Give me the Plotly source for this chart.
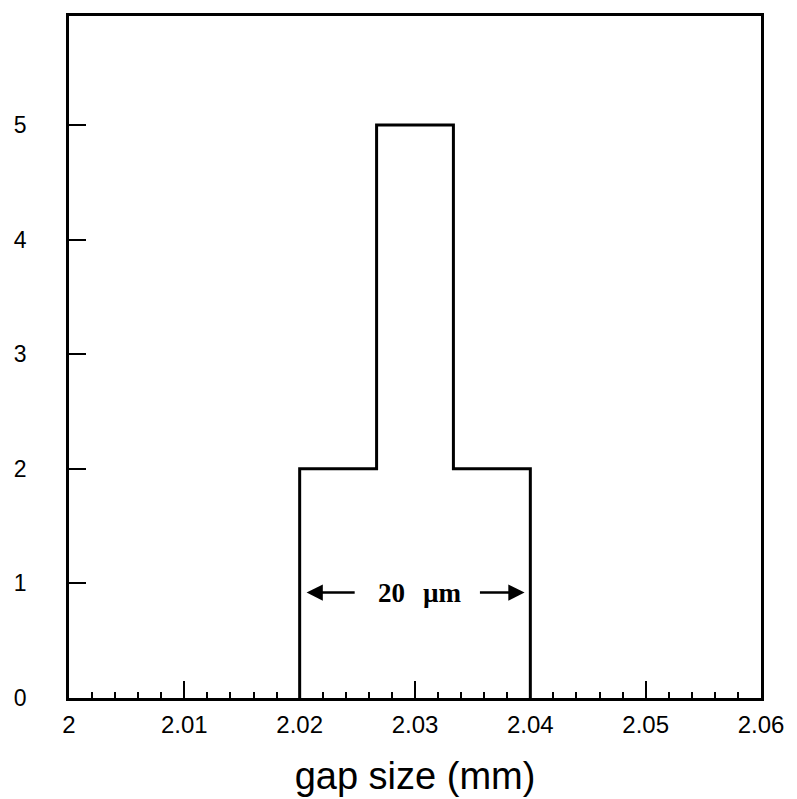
import plotly.graph_objects as go

# Data
bin_edges = [2.02, 2.02667, 2.03333, 2.04]
counts = [2, 5, 2]
x_tick_vals = [2.00, 2.01, 2.02, 2.03, 2.04, 2.05, 2.06]
x_tick_text = ["2", "2.01", "2.02", "2.03", "2.04", "2.05", "2.06"]
y_tick_vals = [0, 1, 2, 3, 4, 5]
x_label = "gap size (mm)"
width_label_num = "20"
width_label_unit = "µm"

# step outline (hv)
xs = [bin_edges[0]] + bin_edges
ys = [0] + counts + [0]

fig = go.Figure()
fig.add_trace(go.Scatter(
    x=xs, y=ys, mode="lines", line=dict(shape="hv", color="black", width=3),
    hoverinfo="skip", showlegend=False,
))

# annotation positions (data coords)
arr_y = 0.92
left_tip, left_tail = 2.0206, 2.0249
right_tail, right_tip = 2.0355, 2.0395
fig.add_annotation(x=left_tip, y=arr_y, ax=left_tail, ay=arr_y, xref="x", yref="y",
                   axref="x", ayref="y", text="", showarrow=True, arrowhead=2,
                   arrowsize=1.3, arrowwidth=2.5, arrowcolor="black")
fig.add_annotation(x=right_tip, y=arr_y, ax=right_tail, ay=arr_y, xref="x", yref="y",
                   axref="x", ayref="y", text="", showarrow=True, arrowhead=2,
                   arrowsize=1.3, arrowwidth=2.5, arrowcolor="black")
serif = dict(family="Liberation Serif", size=27, color="black")
fig.add_annotation(x=2.0280, y=arr_y, text="<b>" + width_label_num + "</b>", showarrow=False,
                   font=serif, xanchor="center", yanchor="middle")
fig.add_annotation(x=2.0324, y=arr_y, text="<b>" + width_label_unit + "</b>", showarrow=False,
                   font=serif, xanchor="center", yanchor="middle")

fig.update_layout(
    width=797, height=799,
    margin=dict(l=61, r=44, t=8, b=109),
    paper_bgcolor="white", plot_bgcolor="white",
    font=dict(family="Liberation Sans", color="black", size=20),
    showlegend=False,
)
fig.update_xaxes(
    range=[2.0, 2.06], tickmode="array", tickvals=x_tick_vals, ticktext=x_tick_text,
    ticks="inside", ticklen=17, tickwidth=2, tickcolor="black",
    minor=dict(dtick=0.002, tick0=2.0, ticks="inside", ticklen=6, tickwidth=2, tickcolor="black"),
    showline=True, linecolor="black", linewidth=2.5, mirror=True,
    showgrid=False, zeroline=False, automargin=False,
    tickfont=dict(size=24, family="Liberation Sans"),
    ticklabelstandoff=3,
    title=dict(text=x_label, font=dict(size=38, family="Liberation Sans"), standoff=26),
)
fig.update_yaxes(
    range=[0, 5.95], tickmode="array", tickvals=y_tick_vals,
    ticks="inside", ticklen=17, tickwidth=2, tickcolor="black",
    showline=True, linecolor="black", linewidth=2.5, mirror=True,
    showgrid=False, zeroline=False, automargin=False,
    tickfont=dict(size=23, family="Liberation Sans"),
    ticklabelstandoff=35,
)

fig.write_html("out.html")
